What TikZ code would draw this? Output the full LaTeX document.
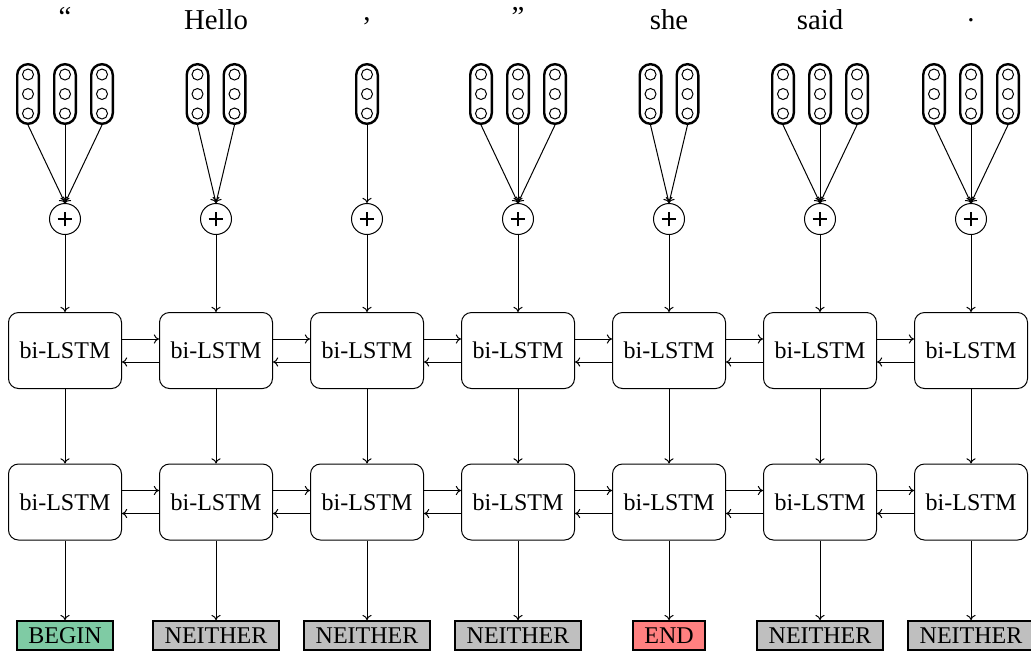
\documentclass[tikz,border=0pt]{standalone}
\usepackage{fontspec}
\setmainfont{Liberation Serif}
\usetikzlibrary{arrows.meta}
\begin{document}
\begin{tikzpicture}[x=0.5pt,y=-0.5pt,
  font=\fontsize{12pt}{14pt}\selectfont,
  line width=0.5pt,
  word/.style={inner sep=2pt,font=\fontsize{14.4pt}{16pt}\selectfont},
  vec/.style={draw,line width=1.2pt,rounded corners=5.4pt,minimum width=10.8pt,minimum height=29.8pt,inner sep=0pt},
  unit/.style={draw,circle,minimum size=5.5pt,inner sep=0pt},
  sumnode/.style={draw,circle,minimum size=15.5pt,inner sep=0pt},
  plusbar/.style={line width=0.9pt},
  lstm/.style={draw,rounded corners=5pt,minimum width=56.5pt,minimum height=38pt,inner sep=0pt},
  tag/.style={draw,line width=1pt,text height=8.2pt,text depth=0pt,inner xsep=5.6pt,inner ysep=3.1pt},
  arr/.style={-{To[length=2.6pt,width=4.6pt]}},
]
\useasboundingbox (0,0) rectangle (1031,654);
\definecolor{tagbegin}{HTML}{7FCBA4}
\definecolor{tagend}{HTML}{FF8080}
\definecolor{tagnone}{HTML}{BFBFBF}

% columns: index/x/word/word y/number of vectors/tag/colour
\foreach \i/\x/\w/\wy/\n/\t/\c in {
  1/65/{“}/17/3/BEGIN/tagbegin,
  2/216/{Hello}/20/2/NEITHER/tagnone,
  3/367/{,}/21/1/NEITHER/tagnone,
  4/518/{”}/16.5/3/NEITHER/tagnone,
  5/669/{she}/20/2/END/tagend,
  6/820/{said}/20/3/NEITHER/tagnone,
  7/971/{.}/20/3/NEITHER/tagnone} {
  \node[word] (w\i) at (\x,\wy) {\w};
  \node[sumnode] (s\i) at (\x,219) {};
  \draw[plusbar] ([xshift=-3.7pt]s\i.center) -- ([xshift=3.7pt]s\i.center);
  \draw[plusbar] ([yshift=-3.7pt]s\i.center) -- ([yshift=3.7pt]s\i.center);
  % character/word vectors feeding the sum
  \ifnum\n=3
    \foreach \k/\dx in {1/-37,2/0,3/37} {
      \node[vec] (v\i\k) at (\x+\dx,94) {};
      \foreach \dy in {-19.5,0,19.5}
        \node[unit] at ([yshift=-\dy*0.5pt]v\i\k.center) {};
      \draw[arr] (v\i\k.south) -- (s\i.north);
    }
  \fi
  \ifnum\n=2
    \foreach \k/\dx in {1/-18.5,2/18.5} {
      \node[vec] (v\i\k) at (\x+\dx,94) {};
      \foreach \dy in {-19.5,0,19.5}
        \node[unit] at ([yshift=-\dy*0.5pt]v\i\k.center) {};
      \draw[arr] (v\i\k.south) -- (s\i.north);
    }
  \fi
  \ifnum\n=1
    \node[vec] (v\i1) at (\x,94) {};
    \foreach \dy in {-19.5,0,19.5}
      \node[unit] at ([yshift=-\dy*0.5pt]v\i1.center) {};
    \draw[arr] (v\i1.south) -- (s\i.north);
  \fi
  \node[lstm] (a\i) at (\x,350.5) {bi-LSTM};
  \node[lstm] (b\i) at (\x,502) {bi-LSTM};
  \node[tag,fill=\c] (t\i) at (\x,635.5) {\t};
  \draw[arr] (s\i) -- (a\i);
  \draw[arr] (a\i) -- (b\i);
  \draw[arr] (b\i) -- (t\i);
}

% forward and backward links between neighbouring cells
\foreach \i [evaluate=\i as \j using int(\i+1)] in {1,...,6} {
  \draw[arr] ([yshift=5.75pt]a\i.east) -- ([yshift=5.75pt]a\j.west);
  \draw[arr] ([yshift=-5.75pt]a\j.west) -- ([yshift=-5.75pt]a\i.east);
  \draw[arr] ([yshift=5.75pt]b\i.east) -- ([yshift=5.75pt]b\j.west);
  \draw[arr] ([yshift=-5.75pt]b\j.west) -- ([yshift=-5.75pt]b\i.east);
}
\end{tikzpicture}
\end{document}
